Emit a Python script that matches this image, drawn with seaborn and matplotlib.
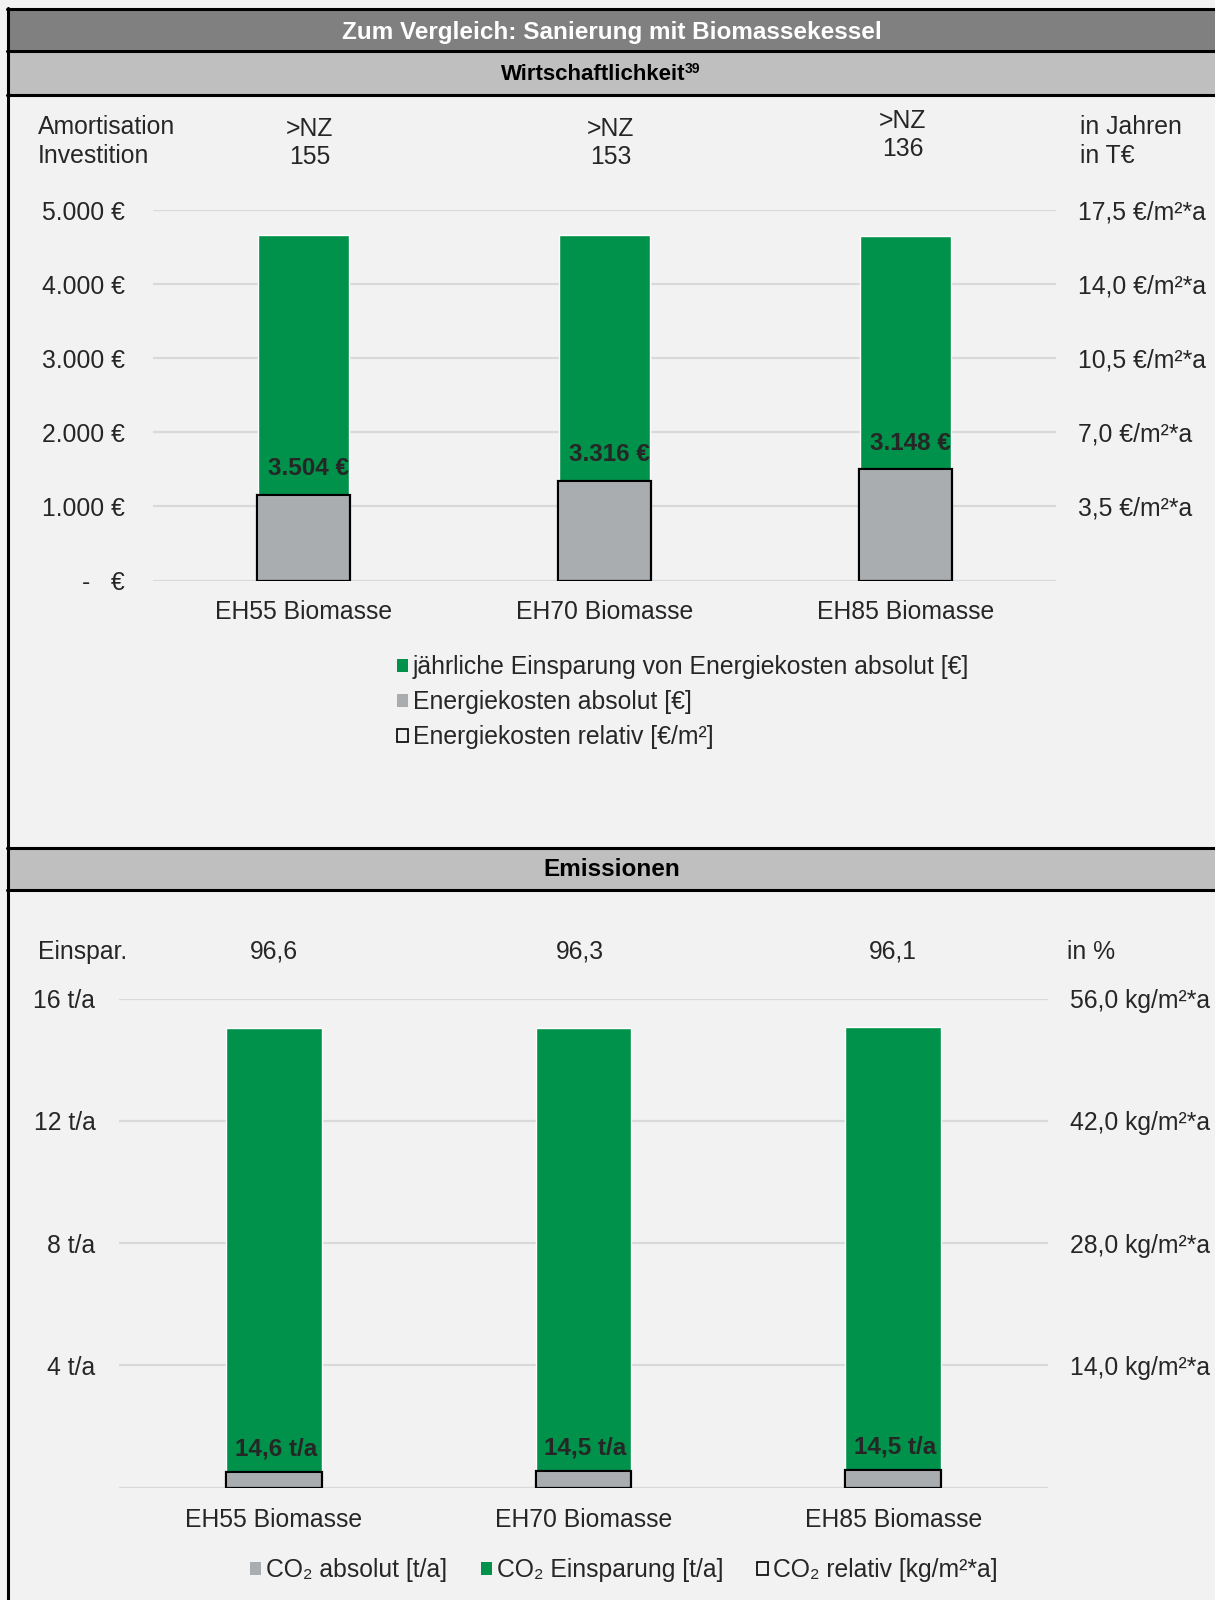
import matplotlib
matplotlib.use("Agg")
import matplotlib.pyplot as plt
import matplotlib.transforms as mtransforms
from matplotlib.patches import Rectangle, Patch
import seaborn as sns
import numpy as np

# Daten
kategorien = ["EH55 Biomasse", "EH70 Biomasse", "EH85 Biomasse"]

# Wirtschaftlichkeit
kosten_abs = [1157, 1349, 1500]          # Energiekosten absolut [€]
einsparung_eur = [3504, 3316, 3148]      # jährliche Einsparung [€]
kosten_rel = [4.05, 4.72, 5.25]          # Energiekosten relativ [€/m²*a]
amortisation = [">NZ", ">NZ", ">NZ"]
investition = ["155", "153", "136"]

# Emissionen
co2_abs = [0.50, 0.53, 0.58]             # CO2 absolut [t/a]
co2_einsp = [14.56, 14.52, 14.49]        # CO2 Einsparung [t/a]
co2_rel = [1.75, 1.86, 2.03]             # CO2 relativ [kg/m²*a]
einspar_proz = ["96,6", "96,3", "96,1"]

GRUEN = "#00914A"
GRAU = "#A9ADB0"
BG = "#F2F2F2"
GRID = "#D9D9D9"

sns.set_theme(style="white")
plt.rcParams["font.family"] = ["Liberation Sans", "DejaVu Sans"]
plt.rcParams["axes.facecolor"] = BG

W, H = 1215, 1600
fig = plt.figure(figsize=(W / 100, H / 100), dpi=100)
fig.patch.set_facecolor(BG)


def fx(x):
    return x / W


def fy(y):
    return 1 - y / H


def band(y0, y1, color):
    fig.add_artist(Rectangle((fx(8), fy(y1)), 1, (y1 - y0) / H, transform=fig.transFigure,
                             facecolor=color, edgecolor="none", zorder=0))


def hline(y):
    fig.add_artist(plt.Line2D([fx(7), 1], [fy(y), fy(y)], transform=fig.transFigure,
                              color="black", lw=2.2, zorder=3))


# Rahmen und Kopfbänder
band(9, 51, "#808080")
band(51, 95, "#BFBFBF")
band(848, 890, "#BFBFBF")
for y in [9, 51, 95, 848, 890]:
    hline(y)
fig.add_artist(plt.Line2D([fx(8), fx(8)], [fy(8), 0], transform=fig.transFigure,
                          color="black", lw=2.2, zorder=3))

HFS = 17.5
fig.text(fx(612), fy(32), "Zum Vergleich: Sanierung mit Biomassekessel", color="white",
         fontsize=HFS, fontweight="bold", ha="center", va="center")
fig.text(fx(685), fy(75), "Wirtschaftlichkeit", color="black",
         fontsize=16, fontweight="bold", ha="right", va="center")
fig.text(fx(685), fy(69), "39", color="black", fontsize=10, fontweight="bold",
         ha="left", va="center")
fig.text(fx(612), fy(870), "Emissionen", color="black",
         fontsize=HFS, fontweight="bold", ha="center", va="center")

FS = 17.8


def style_axes(ax):
    for s in ax.spines.values():
        s.set_visible(False)
    ax.set_facecolor("none")
    ax.tick_params(axis="both", length=0)
    ax.set_xlabel("")
    ax.set_ylabel("")


# ---------------- Wirtschaftlichkeit ----------------
ax1 = fig.add_axes([fx(153), fy(580.5), fx(1056 - 153), (580.5 - 210) / H])
gesamt_eur = np.array(kosten_abs) + np.array(einsparung_eur)
sns.barplot(x=kategorien, y=gesamt_eur, color=GRUEN, saturation=1, width=0.305, ax=ax1, zorder=2)
sns.barplot(x=kategorien, y=kosten_abs, color=GRAU, saturation=1, width=0.31, ax=ax1, zorder=3)
ax1.set_ylim(0, 5000)
ax1.set_xlim(-0.5, 2.5)
ax1.set_yticks([0, 1000, 2000, 3000, 4000, 5000])
ax1.set_yticklabels(["-   €", "1.000 €", "2.000 €", "3.000 €", "4.000 €", "5.000 €"], fontsize=FS)
ax1.yaxis.grid(True, color=GRID, lw=1.6, zorder=0)
ax1.set_axisbelow(True)
style_axes(ax1)
ax1.tick_params(axis="y", pad=20)
ax1.tick_params(axis="x", pad=14, labelsize=FS)

ax1r = ax1.twinx()
sns.barplot(x=kategorien, y=kosten_rel, facecolor="none", edgecolor="black", linewidth=1.6,
            width=0.31, ax=ax1r, zorder=4)
ax1r.set_ylim(0, 17.5)
ax1r.set_yticks([3.5, 7, 10.5, 14, 17.5])
ax1r.set_yticklabels(["3,5 €/m²*a", "7,0 €/m²*a", "10,5 €/m²*a", "14,0 €/m²*a", "17,5 €/m²*a"],
                     fontsize=FS)
style_axes(ax1r)
ax1r.tick_params(axis="y", pad=16)
ax1r.grid(False)

for i, v in enumerate(einsparung_eur):
    ax1.annotate(f"{v:,}".replace(",", ".") + " €", (i, kosten_abs[i]), xytext=(5, 26),
                 textcoords="offset pixels", ha="center", va="center",
                 fontsize=17.5, fontweight="bold", zorder=5)

tr1 = mtransforms.blended_transform_factory(ax1.transData, fig.transFigure)
oben_y = [(129, 157), (129, 157), (121, 149)]
oben_dx = [0.02, 0.02, -0.01]
for i in range(3):
    fig.text(i + oben_dx[i], fy(oben_y[i][0]), amortisation[i], transform=tr1, ha="center",
             va="center", fontsize=FS)
    fig.text(i + oben_dx[i], fy(oben_y[i][1]), investition[i], transform=tr1, ha="center",
             va="center", fontsize=FS)
fig.text(fx(38), fy(127), "Amortisation", fontsize=FS, va="center")
fig.text(fx(38), fy(156), "Investition", fontsize=FS, va="center")
fig.text(fx(1080), fy(127), "in Jahren", fontsize=FS, va="center")
fig.text(fx(1080), fy(156), "in T€", fontsize=FS, va="center")

leg1 = fig.legend(handles=[Patch(facecolor=GRUEN, edgecolor="none"),
                           Patch(facecolor=GRAU, edgecolor="none"),
                           Patch(facecolor="none", edgecolor="black", lw=1.2)],
                  labels=["jährliche Einsparung von Energiekosten absolut [€]",
                          "Energiekosten absolut [€]",
                          "Energiekosten relativ [€/m²]"],
                  loc="upper left", bbox_to_anchor=(fx(397), fy(655)), frameon=False,
                  fontsize=FS, handlelength=0.45, handleheight=0.45, handletextpad=0.2,
                  labelspacing=0.45, borderaxespad=0, borderpad=0)

# ---------------- Emissionen ----------------
ax2 = fig.add_axes([fx(119), fy(1487.5), fx(1048 - 119), (1487.5 - 998.8) / H])
gesamt_co2 = np.array(co2_abs) + np.array(co2_einsp)
sns.barplot(x=kategorien, y=gesamt_co2, color=GRUEN, saturation=1, width=0.31, ax=ax2, zorder=2)
sns.barplot(x=kategorien, y=co2_abs, color=GRAU, saturation=1, width=0.31, ax=ax2, zorder=3)
ax2.set_ylim(0, 16)
ax2.set_xlim(-0.5, 2.5)
ax2.set_yticks([0, 4, 8, 12, 16])
ax2.set_yticklabels(["", "4 t/a", "8 t/a", "12 t/a", "16 t/a"], fontsize=FS)
ax2.yaxis.grid(True, color=GRID, lw=1.6, zorder=0)
ax2.set_axisbelow(True)
style_axes(ax2)
ax2.tick_params(axis="y", pad=17)
ax2.tick_params(axis="x", pad=15, labelsize=FS)

ax2r = ax2.twinx()
sns.barplot(x=kategorien, y=co2_rel, facecolor="none", edgecolor="black", linewidth=1.6,
            width=0.31, ax=ax2r, zorder=4)
ax2r.set_ylim(0, 56)
ax2r.set_yticks([14, 28, 42, 56])
ax2r.set_yticklabels(["14,0 kg/m²*a", "28,0 kg/m²*a", "42,0 kg/m²*a", "56,0 kg/m²*a"],
                     fontsize=FS)
style_axes(ax2r)
ax2r.tick_params(axis="y", pad=15.5)
ax2r.grid(False)

for i, v in enumerate(co2_einsp):
    ax2.annotate(f"{v:.1f}".replace(".", ",") + " t/a", (i, co2_abs[i]), xytext=(2, 23),
                 textcoords="offset pixels", ha="center", va="center",
                 fontsize=17.5, fontweight="bold", zorder=5)

tr2 = mtransforms.blended_transform_factory(ax2.transData, fig.transFigure)
proz_dx = [0.0, -0.012, 0.0]
for i in range(3):
    fig.text(i + proz_dx[i], fy(952), einspar_proz[i], transform=tr2, ha="center", va="center",
             fontsize=FS)
fig.text(fx(38), fy(952), "Einspar.", fontsize=FS, va="center")
fig.text(fx(1067), fy(952), "in %", fontsize=FS, va="center")

leg2 = fig.legend(handles=[Patch(facecolor=GRAU, edgecolor="none"),
                           Patch(facecolor=GRUEN, edgecolor="none"),
                           Patch(facecolor="none", edgecolor="black", lw=1.2)],
                  labels=["CO₂ absolut [t/a]", "CO₂ Einsparung [t/a]", "CO₂ relativ [kg/m²*a]"],
                  loc="center left", bbox_to_anchor=(fx(250), fy(1570)), frameon=False, ncol=3,
                  fontsize=FS, handlelength=0.45, handleheight=0.45, handletextpad=0.2,
                  columnspacing=1.35, borderaxespad=0, borderpad=0)

fig.savefig("out.png", dpi=100, facecolor=fig.get_facecolor())
